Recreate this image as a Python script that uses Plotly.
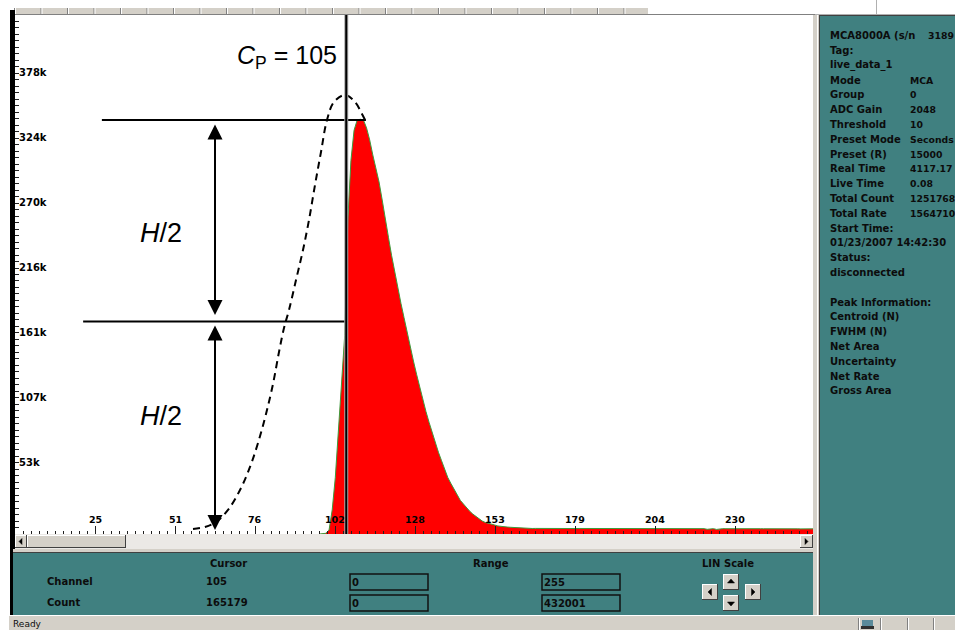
import plotly.graph_objects as go

# ---------------- data ----------------
n_channels = 256
count_range = 432001
start_channel = 97
spectrum_counts = [
    0, 0, 600, 3300, 20000, 47000, 86000, 125700, 165179, 261000,            # 97-106
    311000, 336000, 344600, 345200, 344600, 338000, 328000, 315500, 304700, 293000,  # 107-116
    278000, 261000, 247000, 232000, 218000, 205000, 192000, 180000, 167000, 156000,  # 117-126
    144000, 133000, 122000, 112000, 102000, 93000, 84000, 76000, 68000, 61000,       # 127-136
    54000, 47000, 42000, 37000, 32000, 28000, 25000, 21600, 19000, 16600,            # 137-146
    14600, 12500, 10800, 9600, 8700, 7900, 7500, 6700, 6200, 5800,                   # 147-156
    5800, 5600, 5400, 5200, 5000, 5000, 4800,                                         # 157-163
    4700, 4600, 4650, 4600, 4550, 4600, 4600, 4650, 4550, 4600,                      # 164-173
    4600, 4550, 4600, 4650, 4600, 4550, 4600, 4600, 4500, 4600,                      # 174-183
    4550, 4600, 4600, 4550, 4500, 4600, 4550, 4600, 4500, 4550,                      # 184-193
    4600, 4500, 4550, 4500, 4600, 4550, 4500, 4550, 4500, 4550,                      # 194-203
    4500, 4550, 4500, 4500, 4550, 4450, 4500, 4550, 4500, 4450,                      # 204-213
    4500, 4500, 4450, 4500, 4450, 4500, 4450, 3900, 4400, 4450,                      # 214-223
    3800, 4400, 4450, 4400, 4450, 4400, 4400, 4450, 4400, 4400,                      # 224-233
    4350, 4400, 4400, 4350, 4400, 4350, 4400, 4350, 4300, 4350,                      # 234-243
    4350, 4300, 4350, 4300, 4300, 4350, 4300, 4250, 4300, 4300,                      # 244-253
    4250, 4300,                                                                        # 254-255
]
cursor_channel = 105
cursor_count = 165179

ideal_channels = [56.96, 60.8, 64.32, 68.16, 72.0, 75.2, 77.76, 80.32, 82.56, 84.48,
                  86.08, 87.68, 89.92, 92.16, 94.08, 96.0, 97.92, 99.84, 102.08, 105.6,
                  108.8, 111.04, 112.32]
ideal_counts = [4200, 5800, 10000, 20000, 36600, 55800, 75700, 99900, 124900, 151500,
                171500, 186500, 211400, 236400, 261400, 290500, 318000, 344600, 359600, 365400,
                359600, 349600, 343000]

peak_line_channels = [27.8, 112.3]
peak_line_count = 344600
half_line_channels = [21.8, 106.0]
half_line_count = 176900
arrow_channel = 64.0
upper_arrow_counts = [342100, 182300]
lower_arrow_counts = [174800, 3300]

x_tick_values = [25.6, 51.2, 76.8, 102.4, 128.0, 153.6, 179.2, 204.8, 230.4]
x_tick_labels = ["25", "51", "76", "102", "128", "153", "179", "204", "230"]
y_tick_values = [54000, 108000, 162000, 216000, 270000, 324000, 378000]
y_tick_labels = ["53k", "107k", "161k", "216k", "270k", "324k", "378k"]

info_labels = ["MCA8000A (s/n", "Tag:", "live_data_1", "Mode", "Group", "ADC Gain",
               "Threshold", "Preset Mode", "Preset (R)", "Real Time", "Live Time",
               "Total Count", "Total Rate", "Start Time:", "01/23/2007 14:42:30", "Status:",
               "disconnected", "", "Peak Information:", "Centroid (N)", "FWHM (N)",
               "Net Area", "Uncertainty", "Net Rate", "Gross Area"]
info_values = ["3189", "", "", "MCA", "0", "2048", "10", "Seconds", "15000", "4117.17",
               "0.08", "1251768", "1564710", "", "", "", "", "", "", "", "", "", "", "", ""]

range_low = ["0", "0"]
range_high = ["255", "432001"]

# ---------------- geometry helpers (pixel -> paper) ----------------
PL, PR, PT, PB = 15, 815, 15, 534


def X(px):
    return (px - PL) / (PR - PL)


def Y(py):
    return (PB - py) / (PB - PT)


shapes = []
annotations = []

TEAL = "#408080"
GRAY = "#d4d0c8"
DARK = "#808080"
TXT = "#0c0c0c"


def rect(x0, y0, x1, y1, fill, line=None, lw=0):
    shapes.append(dict(type="rect", xref="paper", yref="paper",
                       x0=X(x0), x1=X(x1), y0=Y(y1), y1=Y(y0),
                       fillcolor=fill, line=dict(color=line or fill, width=lw), layer="above"))


def seg(x0, y0, x1, y1, color, w=1):
    shapes.append(dict(type="line", xref="paper", yref="paper",
                       x0=X(x0), x1=X(x1), y0=Y(y0), y1=Y(y1),
                       line=dict(color=color, width=w), layer="above"))


def tri(points, color="black"):
    p = "M " + " L ".join(f"{X(a):.5f},{Y(b):.5f}" for a, b in points) + " Z"
    shapes.append(dict(type="path", xref="paper", yref="paper", path=p,
                       fillcolor=color, line=dict(color=color, width=0.5), layer="above"))


def bevel(x0, y0, x1, y1, face=GRAY):
    rect(x0, y0, x1, y1, face)
    seg(x0, y0 + 0.5, x1, y0 + 0.5, "white")
    seg(x0 + 0.5, y0, x0 + 0.5, y1, "white")
    seg(x0, y1 - 0.5, x1, y1 - 0.5, "#404040")
    seg(x1 - 0.5, y0, x1 - 0.5, y1, "#404040")


def text(px, py, s, size=10, bold=True, anchor="left", color=TXT, family="DejaVu Sans"):
    annotations.append(dict(xref="paper", yref="paper", x=X(px), y=Y(py), text=s,
                            showarrow=False, xanchor=anchor, yanchor="middle",
                            borderpad=0, borderwidth=0,
                            font=dict(family=family, size=size, color=color,
                                      weight="bold" if bold else "normal")))


# ---------------- figure ----------------
fig = go.Figure()

# spectrum: one point per channel centre, closed at the end of the last channel
ch = [c + 0.5 for c in range(start_channel, start_channel + len(spectrum_counts))] + [n_channels]
cnt = spectrum_counts + [spectrum_counts[-1]]
fig.add_trace(go.Scatter(x=ch, y=cnt, mode="lines",
                         line=dict(shape="linear", color="#3c9c3c", width=1),
                         fill="tozeroy", fillcolor="#ff0000", hoverinfo="skip"))
fig.add_trace(go.Scatter(x=ideal_channels, y=ideal_counts, mode="lines",
                         line=dict(color="black", width=2, dash="7px,5px", shape="spline"),
                         hoverinfo="skip"))

# H lines (data coords)
shapes.append(dict(type="line", xref="x", yref="y", x0=peak_line_channels[0], x1=peak_line_channels[1],
                   y0=peak_line_count, y1=peak_line_count, line=dict(color="black", width=2)))
shapes.append(dict(type="line", xref="x", yref="y", x0=half_line_channels[0], x1=half_line_channels[1],
                   y0=half_line_count, y1=half_line_count, line=dict(color="black", width=2)))

# cursor line (right edge of cursor channel)
cx = (cursor_channel + 1) / n_channels
shapes.append(dict(type="line", xref="paper", yref="paper", x0=cx, x1=cx, y0=Y(537), y1=1,
                   line=dict(color="#a8a8a8", width=4), layer="above"))
shapes.append(dict(type="line", xref="paper", yref="paper", x0=cx, x1=cx, y0=Y(537), y1=1,
                   line=dict(color="black", width=2), layer="above"))

# double arrows
for a, b in (upper_arrow_counts, lower_arrow_counts):
    annotations.append(dict(xref="x", yref="y", axref="x", ayref="y",
                            x=arrow_channel, y=b, ax=arrow_channel, ay=a, text="",
                            showarrow=True, arrowhead=2, startarrowhead=2, arrowside="end+start",
                            arrowsize=1.5, startarrowsize=1.5, arrowwidth=2, arrowcolor="black",
                            standoff=0, startstandoff=0))

# big labels
annotations.append(dict(xref="paper", yref="paper", x=X(339), y=Y(57), xanchor="right", yanchor="middle",
                        text="<i>C</i><sub>P</sub> = 105", showarrow=False,
                        font=dict(family="Liberation Sans", size=25, color="black")))
for yy in (233, 416):
    annotations.append(dict(xref="paper", yref="paper", x=X(161), y=Y(yy), xanchor="center", yanchor="middle",
                            text="<i>H</i>/2", showarrow=False,
                            font=dict(family="Liberation Sans", size=27, color="black")))

# tick labels
for v, s in zip(x_tick_values, x_tick_labels):
    annotations.append(dict(xref="x", yref="paper", x=v, y=Y(519), text=s, showarrow=False,
                            xanchor="center", yanchor="middle",
                            font=dict(family="DejaVu Sans", size=9.5, color="black", weight="bold")))
for v, s in zip(y_tick_values, y_tick_labels):
    annotations.append(dict(xref="paper", yref="y", x=X(17), y=v, yshift=7, text=s, showarrow=False,
                            xanchor="left", yanchor="middle",
                            font=dict(family="DejaVu Sans", size=10, color="black", weight="bold")))

# ---------------- window chrome ----------------
# top toolbar strip
rect(14, 8, 648, 14, GRAY)
k = 14
while k < 648:
    seg(k + 0.5, 8, k + 0.5, 14, DARK)
    seg(k + 1.5, 8, k + 1.5, 14, "white")
    k += 26.5
seg(14, 14.5, 815, 14.5, DARK)
seg(815, 14.5, 955, 14.5, "#b0b0b0")
seg(876.5, 0, 876.5, 14, "#b0b0b0")

# left black border
rect(10, 10, 15, 615, "black")

# scrollbar
rect(15, 534, 813, 549, "#ebe9e6")
bevel(15, 535, 27, 548)
tri([(19, 541.5), (22, 538.5), (22, 544.5)])
bevel(27, 535, 126, 548)
bevel(800, 535, 813, 548)
tri([(808, 541.5), (805, 538.5), (805, 544.5)])

# separator strip above bottom panel
rect(13, 549, 813, 553, GRAY)
seg(13, 552.5, 813, 552.5, "#404040")

# bottom teal panel
rect(13, 553, 813, 615, TEAL)

# vertical separator between plot/bottom and right panel
rect(813, 15, 820, 615, GRAY)
seg(817.5, 15, 817.5, 615, "white")
seg(819.5, 15, 819.5, 615, "#404040")

# right teal panel
rect(820, 15, 955, 615, TEAL)
seg(820, 15.5, 955, 15.5, "#404040")

# status bar
rect(9, 615, 955, 630, GRAY)
seg(9, 615.5, 955, 615.5, "white")
for sx in (858, 880, 907, 933):
    seg(sx + 0.5, 618, sx + 0.5, 630, DARK)
    seg(sx + 1.5, 618, sx + 1.5, 630, "white")
rect(862, 620, 873, 626, "#5a8a9a")
rect(861, 626, 874, 629, "#303030")
text(13, 623.5, "Ready", size=9, bold=False)

# bottom panel texts
text(228.5, 563, "Cursor", anchor="center")
text(47, 581, "Channel")
text(206, 581, str(cursor_channel))
text(47, 602, "Count")
text(206, 602, str(cursor_count))
text(473, 563, "Range")
text(702, 563, "LIN Scale")

for i, (lo, hi) in enumerate(zip(range_low, range_high)):
    y0 = 574 + 21 * i
    rect(350, y0, 428, y0 + 16, TEAL, line="#101010", lw=1.5)
    rect(542, y0, 620, y0 + 16, TEAL, line="#101010", lw=1.5)
    text(352, y0 + 8.5, lo)
    text(544, y0 + 8.5, hi)

# scale buttons
bevel(723, 574, 739, 590)
tri([(731, 579), (727.5, 583), (734.5, 583)])
bevel(723, 595, 739, 611)
tri([(731, 606), (727.5, 602), (734.5, 602)])
bevel(702, 584, 718, 600)
tri([(708, 592), (711.5, 588.5), (711.5, 595.5)])
bevel(745, 584, 761, 600)
tri([(755, 592), (751.5, 588.5), (751.5, 595.5)])

# right panel info
for i, (lab, val) in enumerate(zip(info_labels, info_values)):
    yy = 35.7 + 14.8 * i
    if lab:
        text(830, yy, lab)
    if val:
        text(928 if i == 0 else 910, yy, val, size=9.3)

fig.update_layout(
    width=955, height=630,
    margin=dict(l=PL, r=955 - PR, t=PT, b=630 - PB, pad=0),
    paper_bgcolor="white", plot_bgcolor="white",
    showlegend=False,
    xaxis=dict(range=[0, n_channels], showgrid=False, zeroline=False, showline=False,
               showticklabels=False, ticks="inside", tickmode="array", tickvals=x_tick_values,
               ticklen=8, tickwidth=1, tickcolor="#202020",
               minor=dict(ticks="inside", dtick=n_channels / 100, tick0=0, ticklen=3,
                          tickcolor="#202020", tickwidth=1, showgrid=False),
               fixedrange=True),
    yaxis=dict(range=[0, count_range], showgrid=False, zeroline=False, showline=False,
               showticklabels=False, ticks="inside", tickmode="array", tickvals=y_tick_values,
               ticklen=4, tickwidth=1, tickcolor="#202020",
               minor=dict(ticks="inside", dtick=count_range / 80, tick0=0, ticklen=4,
                          tickcolor="#202020", tickwidth=1, showgrid=False),
               fixedrange=True),
    shapes=shapes,
    annotations=annotations,
)

fig.write_html("out.html", config={"displayModeBar": False},
               post_script="document.body.style.margin='0';document.body.style.overflow='hidden';")
